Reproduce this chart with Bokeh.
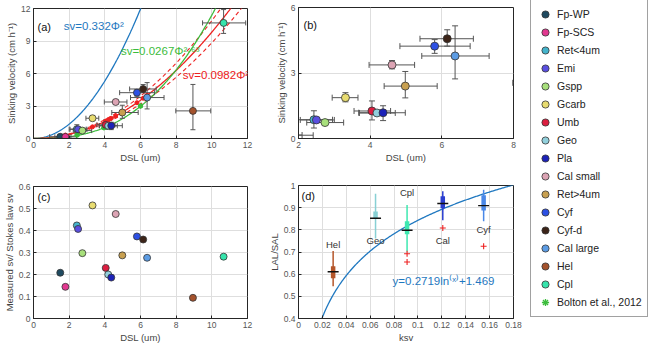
import numpy as np
from bokeh.plotting import figure
from bokeh.layouts import row, column
from bokeh.models import (ColumnDataSource, Label, Legend, LegendItem, FixedTicker,
                          NumeralTickFormatter, Range1d)
from bokeh.embed import file_html
from bokeh.resources import INLINE
from bokeh.core.properties import value

FONT = "Liberation Sans"

# ---------------- data ----------------
species = ["Fp-WP", "Fp-SCS", "Ret<4um", "Emi", "Gspp", "Gcarb", "Umb", "Geo", "Pla",
           "Cal small", "Ret>4um", "Cyf", "Cyf-d", "Cal large", "Hel", "Cpl"]
colors = ["#1f4a60", "#e23890", "#45b4cc", "#5a4fe0", "#a8e07c", "#e8dc70", "#dc1e40",
          "#92d0dc", "#1c22b8", "#dca4b4", "#c8a050", "#2c50e4", "#3c2418", "#5c9ce4",
          "#a4522c", "#36e4ac"]
dsl = [1.50, 1.79, 2.43, 2.50, 2.74, 3.31, 4.05, 4.19, 4.36, 4.61, 4.98, 5.80, 6.15, 6.37, 8.94, 10.66]
dsl_lo = [0.90, 1.20, 2.00, 2.05, 2.23, 2.94, 3.55, 3.70, 3.68, 3.97, 4.39, 4.83, 5.39, 5.44, 7.98, 9.48]
dsl_hi = [2.10, 2.41, 2.95, 3.00, 3.26, 3.66, 4.57, 4.70, 4.98, 5.24, 5.87, 6.79, 6.88, 7.32, 9.94, 11.90]
sv = [0.16, 0.15, 0.86, 0.85, 0.73, 1.87, 1.26, 1.17, 1.18, 3.37, 2.40, 4.23, 4.57, 3.78, 2.55, 10.67]
sv_lo = [0.11, 0.10, 0.48, 0.75, 0.65, 1.68, 0.85, 1.05, 0.82, 3.19, 1.86, 3.90, 4.23, 2.73, 0.81, 9.70]
sv_hi = [0.21, 0.20, 1.27, 0.95, 0.80, 2.10, 1.72, 1.30, 1.50, 3.57, 3.07, 4.53, 4.98, 5.16, 4.99, 11.90]
ratio = [0.208, 0.144, 0.423, 0.407, 0.297, 0.514, 0.230, 0.200, 0.186, 0.475, 0.287,
         0.373, 0.359, 0.276, 0.094, 0.281]

bolton_dsl = [1.80, 2.45, 3.95, 6.00]
bolton_sv = [0.12, 0.33, 1.00, 3.00]

stokes_coef = 0.332
bolton_coef, bolton_exp = 0.0267, 2.63
fit_coef, fit_coef_lo, fit_coef_hi = 0.0982, 0.0884, 0.1088

# panel (d)
groups = ["Hel", "Geo", "Cpl", "Cal", "Cyf"]
group_colors = ["#b5562a", "#88d0d4", "#3ee8b0", "#2a3ed0", "#4a88e8"]
ksv = [0.0290, 0.0645, 0.0909, 0.1208, 0.1550]
med = [0.611, 0.852, 0.798, 0.919, 0.909]
q1 = [0.582, 0.849, 0.780, 0.897, 0.887]
q3 = [0.636, 0.883, 0.839, 0.952, 0.956]
wlo = [0.545, 0.761, 0.702, 0.843, 0.839]
whi = [0.704, 0.963, 0.912, 0.974, 0.981]
label_y = [0.736, 0.750, 0.968, 0.752, 0.800]
outlier_group = ["Cpl", "Cpl", "Cal", "Cyf"]
outlier_val = [0.692, 0.655, 0.808, 0.726]
log_a, log_b = 0.2719, 1.469

# ---------------- helpers ----------------
def make_fig(w, h, left, right, top, bottom, xr, yr, xt, yt, xlabel, ylabel, xfmt=None, yfmt=None):
    p = figure(width=w, height=h, output_backend="svg", toolbar_location=None,
               x_range=Range1d(*xr), y_range=Range1d(*yr),
               min_border_left=left, min_border_right=right,
               min_border_top=top, min_border_bottom=bottom)
    p.outline_line_color = "#262626"
    p.outline_line_width = 1
    p.background_fill_color = "white"
    p.border_fill_color = "white"
    p.xaxis.ticker = FixedTicker(ticks=xt)
    p.yaxis.ticker = FixedTicker(ticks=yt)
    if xfmt:
        p.xaxis.formatter = NumeralTickFormatter(format=xfmt)
    if yfmt:
        p.yaxis.formatter = NumeralTickFormatter(format=yfmt)
    for ax in (p.xaxis[0], p.yaxis[0]):
        ax.major_tick_in = 3
        ax.major_tick_out = 0
        ax.minor_tick_line_color = None
        ax.axis_line_color = "#262626"
        ax.major_tick_line_color = "#262626"
        ax.major_label_text_font = FONT
        ax.major_label_text_font_size = "8.5px"
        ax.major_label_text_color = "#555555"
        ax.axis_label_text_font = FONT
        ax.axis_label_text_font_size = "9.5px"
        ax.axis_label_text_font_style = "normal"
        ax.axis_label_text_color = "#444444"
        ax.major_label_standoff = 3
        ax.axis_label_standoff = 1
    p.xaxis.axis_label = xlabel
    p.yaxis.axis_label = ylabel
    p.grid.grid_line_color = "#dedede"
    p.grid.grid_line_width = 1
    return p


def panel_label(p, txt, x, y):
    p.add_layout(Label(x=x, y=y, x_units="screen", y_units="screen", text=txt,
                       text_font=FONT, text_font_size="11px", text_color="#111111",
                       text_baseline="top"))


def error_bars(p, src, size):
    p.segment(x0="dsl_lo", x1="dsl_hi", y0="sv", y1="sv", source=src,
              line_color="#555555", line_width=1)
    p.segment(x0="dsl", x1="dsl", y0="sv_lo", y1="sv_hi", source=src,
              line_color="#555555", line_width=1)
    p.scatter(x="dsl_lo", y="sv", source=src, marker="dash", angle=np.pi / 2, size=size,
              line_color="#555555", line_width=1)
    p.scatter(x="dsl_hi", y="sv", source=src, marker="dash", angle=np.pi / 2, size=size,
              line_color="#555555", line_width=1)
    p.scatter(x="dsl", y="sv_lo", source=src, marker="dash", size=size,
              line_color="#555555", line_width=1)
    p.scatter(x="dsl", y="sv_hi", source=src, marker="dash", size=size,
              line_color="#555555", line_width=1)


src = ColumnDataSource(dict(species=species, color=colors, dsl=dsl, dsl_lo=dsl_lo, dsl_hi=dsl_hi,
                            sv=sv, sv_lo=sv_lo, sv_hi=sv_hi, ratio=ratio))

# ---------------- panel (a) ----------------
fa = make_fig(260, 165, 31, 13, 8, 25, (0, 12), (0, 12), list(range(0, 13, 2)),
              [0, 3, 6, 9, 12], "DSL (um)", "Sinking velocity (cm h\u207b\u00b9)")
xx = np.linspace(0, 12, 300)
fa.line(xx, stokes_coef * xx ** 2, line_color="#1f78c0", line_width=1.3)
fa.line(xx, fit_coef_lo * xx ** 2, line_color="#ee2020", line_width=1.1, line_dash="4 3")
fa.line(xx, fit_coef_hi * xx ** 2, line_color="#ee2020", line_width=1.1, line_dash="4 3")
fa.line(xx, fit_coef * xx ** 2, line_color="#ee2020", line_width=1.3)
fa.line(xx, bolton_coef * xx ** bolton_exp, line_color="#3cbc3c", line_width=1.3)
error_bars(fa, src, 5)
fit_x = np.array([d for d in dsl if d < 8])
fa.scatter(fit_x, fit_coef * fit_x ** 2, marker="circle", size=4, fill_color="#ee2020",
           line_color="#ee2020")
fa.scatter(bolton_dsl, bolton_sv, marker="circle", size=4.5, fill_color="#3cbc3c",
           line_color="#3cbc3c")
fa.scatter(bolton_dsl, bolton_sv, marker="asterisk", size=5, line_color="#3cbc3c", line_width=1)
fa.scatter(x="dsl", y="sv", source=src, marker="circle", size=7, fill_color="color",
           line_color="#333333", line_width=0.8)
fa.add_layout(Label(x=1.7, y=10.36, text="sv=0.332\u03a6\u00b2", text_color="#1f78c0",
                    text_font=FONT, text_font_size="11.5px", text_baseline="middle"))
fa.add_layout(Label(x=4.9, y=8.1, text="sv=0.0267\u03a6\u00b2\u00b7\u2076\u00b3", text_color="#3cbc3c",
                    text_font=FONT, text_font_size="11.5px", text_baseline="middle"))
fa.add_layout(Label(x=8.37, y=5.9, text="sv=0.0982\u03a6\u00b2", text_color="#ee2020",
                    text_font=FONT, text_font_size="11.5px", text_baseline="middle"))
panel_label(fa, "(a)", 4, 118)

# ---------------- panel (b) ----------------
fb = make_fig(265, 165, 35, 12, 7, 25, (2, 8), (0, 6), [2, 4, 6, 8], [0, 3, 6],
              "DSL (um)", "Sinking velocity (cm h\u207b\u00b9)")
error_bars(fb, src, 6)
fb.scatter(x="dsl", y="sv", source=src, marker="circle", size=8, fill_color="color",
           line_color="#333333", line_width=0.8)
panel_label(fb, "(b)", 5, 120)

# ---------------- panel (c) ----------------
fc = make_fig(260, 180, 32, 9, 21, 25, (0, 12), (0, 0.6), list(range(0, 13, 2)),
              [0, 0.1, 0.2, 0.3, 0.4, 0.5, 0.6], "DSL (um)", "Measured sv/ Stokes law sv",
              yfmt="0.[0]")
fc.scatter(x="dsl", y="ratio", source=src, marker="circle", size=7, fill_color="color",
           line_color="#333333", line_width=0.8)
panel_label(fc, "(c)", 4, 128)

# ---------------- panel (d) ----------------
fd = make_fig(265, 180, 38, 10, 20, 24, (0, 0.18), (0.4, 1.0),
              [0, 0.02, 0.04, 0.06, 0.08, 0.1, 0.12, 0.14, 0.16, 0.18],
              [0.4, 0.5, 0.6, 0.7, 0.8, 0.9, 1.0], "ksv", "LAL/SAL",
              xfmt="0.[00]", yfmt="0.[0]")
dsrc = ColumnDataSource(dict(g=groups, c=group_colors, x=ksv, med=med, q1=q1, q3=q3,
                             wlo=wlo, whi=whi, ly=label_y))
kx = np.linspace(0.012, 0.18, 300)
fd.line(kx, log_a * np.log(kx) + log_b, line_color="#1f78c0", line_width=1.3)
fd.segment(x0="x", x1="x", y0="wlo", y1="whi", source=dsrc, line_color="c", line_width=1.5)
fd.segment(x0="x", x1="x", y0="q1", y1="q3", source=dsrc, line_color="c", line_width=4.5,
           line_cap="butt")
fd.scatter(x="x", y="med", source=dsrc, marker="dash", size=11, line_color="#111111",
           line_width=1.4)
out_x = [ksv[groups.index(g)] for g in outlier_group]
fd.scatter(out_x, outlier_val, marker="cross", size=6, line_color="#ee2020", line_width=1.1)
fd.text(x="x", y="ly", text="g", source=dsrc, text_font=value(FONT), text_font_size="9.5px",
        text_color="#333333", text_align="center", text_baseline="middle")
fd.add_layout(Label(x=0.0788, y=0.569, text="y=0.2719ln\u207d\u02e3\u207e+1.469", text_color="#1f78c0",
                    text_font=FONT, text_font_size="11.5px", text_baseline="middle"))
panel_label(fd, "(d)", 3, 129)

# ---------------- legend ----------------
fl = figure(width=128, height=345, output_backend="svg", toolbar_location=None,
            x_range=Range1d(0, 1), y_range=Range1d(0, 1), min_border=0)
fl.axis.visible = False
fl.grid.visible = False
fl.outline_line_color = None
items = []
hidden = dict(x=[5.0], y=[5.0])  # outside the legend figure's range, only the legend shows them
for name, col in zip(species, colors):
    r = fl.scatter(x=hidden["x"], y=hidden["y"], marker="circle", size=10, fill_color=col,
                   line_color="#333333", line_width=0.8)
    items.append(LegendItem(label=name, renderers=[r]))
rb = fl.scatter(x=hidden["x"], y=hidden["y"], marker="asterisk", size=10, line_color="#3cbc3c",
                line_width=1.3)
items.append(LegendItem(label="Bolton et al., 2012", renderers=[rb]))
leg = Legend(items=items, location=(5, 28), label_text_font=FONT, label_text_font_size="10.5px",
             label_text_color="#222222", glyph_height=18, glyph_width=18, label_height=18,
             spacing=0, padding=5, margin=0, label_standoff=3,
             border_line_color="#444444", border_line_width=1, background_fill_alpha=1)
fl.add_layout(leg)

layout = row(column(fa, fc), column(fb, fd), fl)
open("out.html", "w").write(file_html(layout, INLINE))
